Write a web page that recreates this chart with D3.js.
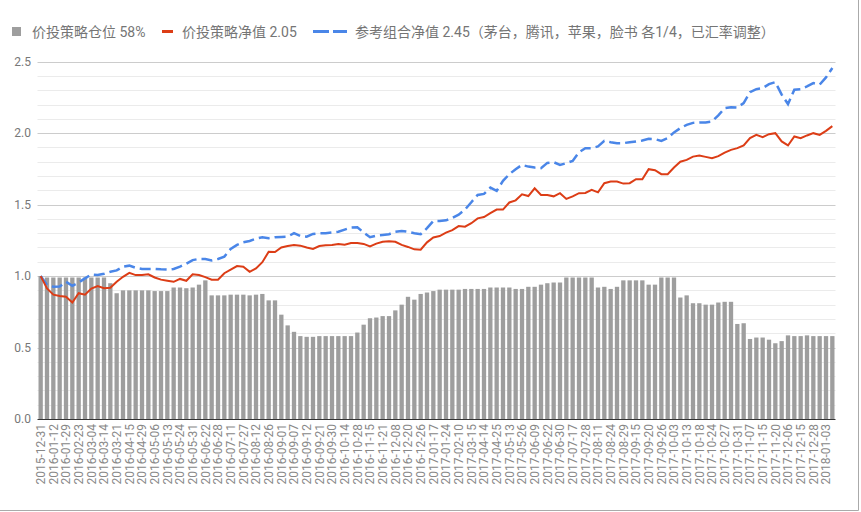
<!DOCTYPE html>
<meta charset="utf-8">
<style>
    body { margin: 0; background: #fff; }
    text { font-family: Roboto, "Noto Sans CJK SC", sans-serif; }
    .legend text { font-size: 14px; fill: #757575; }
    .yaxis text { font-size: 12px; fill: #777; }
    .xaxis text { font-size: 12px; fill: #888; }
</style>
<svg width="861" height="512"></svg>
<script src="https://cdnjs.cloudflare.com/ajax/libs/d3/7.8.5/d3.min.js"></script>
<script>
    // x tick labels (every other bar is labelled)
    const tickLabels = [
        "2015-12-31", "2016-01-12", "2016-01-29", "2016-02-23", "2016-03-04", "2016-03-14", "2016-03-21",
        "2016-04-15", "2016-04-29", "2016-05-06", "2016-05-13", "2016-05-24", "2016-05-31", "2016-06-22",
        "2016-06-28", "2016-07-11", "2016-07-27", "2016-08-12", "2016-08-26", "2016-09-01", "2016-09-07",
        "2016-09-12", "2016-09-21", "2016-09-30", "2016-10-14", "2016-10-28", "2016-11-15", "2016-11-21",
        "2016-12-08", "2016-12-20", "2016-12-26", "2017-01-17", "2017-01-24", "2017-02-10", "2017-03-15",
        "2017-04-14", "2017-04-25", "2017-05-13", "2017-05-26", "2017-06-09", "2017-06-22", "2017-06-30",
        "2017-07-17", "2017-07-28", "2017-08-11", "2017-08-24", "2017-08-29", "2017-09-15", "2017-09-20",
        "2017-09-26", "2017-10-03", "2017-10-13", "2017-10-18", "2017-10-24", "2017-10-27", "2017-10-31",
        "2017-11-07", "2017-11-15", "2017-11-20", "2017-12-06", "2017-12-15", "2017-12-28", "2018-01-03"
    ];

    // 价投策略仓位 (bars)
    const position = [
        1.0, 0.99, 0.99, 0.99, 0.99, 0.99, 0.99, 0.99, 0.99, 0.99, 0.99, 0.95, 0.88, 0.90, 0.90, 0.90, 0.90, 0.90,
        0.895, 0.895, 0.895, 0.92, 0.92, 0.915, 0.92, 0.94, 0.97, 0.865, 0.865, 0.865, 0.87, 0.87, 0.87, 0.865,
        0.87, 0.875, 0.83, 0.83, 0.73, 0.655, 0.61, 0.58, 0.575, 0.575, 0.58, 0.58, 0.58, 0.58, 0.58, 0.58,
        0.605, 0.66, 0.705, 0.71, 0.72, 0.72, 0.76, 0.80, 0.855, 0.835, 0.875, 0.885, 0.895, 0.905, 0.905, 0.905,
        0.905, 0.91, 0.91, 0.91, 0.91, 0.92, 0.92, 0.92, 0.92, 0.91, 0.91, 0.925, 0.925, 0.94, 0.95, 0.955,
        0.955, 0.99, 0.99, 0.99, 0.99, 0.99, 0.92, 0.925, 0.91, 0.925, 0.97, 0.97, 0.97, 0.97, 0.94, 0.94,
        0.99, 0.99, 0.99, 0.85, 0.865, 0.81, 0.81, 0.80, 0.80, 0.815, 0.82, 0.82, 0.665, 0.67, 0.56, 0.57,
        0.57, 0.555, 0.53, 0.545, 0.585, 0.58, 0.58, 0.585, 0.58, 0.58, 0.58, 0.58
    ];

    // 价投策略净值 (red line)
    const strategyNav = [
        1.0, 0.913, 0.87, 0.86, 0.855, 0.815, 0.88, 0.87, 0.913, 0.93, 0.915, 0.918, 0.96, 0.995, 1.023, 1.007,
        1.007, 1.012, 0.99, 0.975, 0.967, 0.96, 0.98, 0.967, 1.012, 1.007, 0.993, 0.975, 0.975, 1.02, 1.045,
        1.07, 1.066, 1.03, 1.054, 1.097, 1.17, 1.168, 1.2, 1.21, 1.218, 1.213, 1.2, 1.19, 1.21, 1.215, 1.218,
        1.225, 1.22, 1.232, 1.232, 1.225, 1.208, 1.227, 1.24, 1.243, 1.24, 1.218, 1.204, 1.187, 1.185, 1.236,
        1.27, 1.28, 1.304, 1.322, 1.35, 1.346, 1.37, 1.404, 1.413, 1.44, 1.465, 1.465, 1.515, 1.53, 1.572,
        1.56, 1.614, 1.568, 1.568, 1.558, 1.58, 1.54, 1.558, 1.58, 1.582, 1.603, 1.586, 1.65, 1.661, 1.661,
        1.647, 1.65, 1.678, 1.678, 1.748, 1.741, 1.713, 1.713, 1.76, 1.80, 1.813, 1.836, 1.843, 1.834, 1.825,
        1.839, 1.864, 1.883, 1.895, 1.914, 1.965, 1.988, 1.972, 1.993, 2.0, 1.942, 1.914, 1.977, 1.965, 1.984,
        2.0, 1.988, 2.016, 2.049
    ];

    // 参考组合净值 (blue dashed line)
    const referenceNav = [
        1.0, 0.937, 0.925, 0.927, 0.96, 0.932, 0.955, 0.984, 1.012, 1.007, 1.016, 1.03, 1.04, 1.066, 1.073,
        1.058, 1.05, 1.05, 1.05, 1.047, 1.045, 1.05, 1.066, 1.087, 1.112, 1.12, 1.12, 1.11, 1.12, 1.136, 1.19,
        1.218, 1.237, 1.246, 1.262, 1.272, 1.265, 1.272, 1.274, 1.276, 1.30, 1.28, 1.276, 1.295, 1.30, 1.30,
        1.305, 1.31, 1.325, 1.34, 1.342, 1.305, 1.272, 1.283, 1.288, 1.293, 1.31, 1.316, 1.31, 1.30, 1.293,
        1.335, 1.385, 1.385, 1.39, 1.407, 1.43, 1.465, 1.517, 1.568, 1.575, 1.619, 1.596, 1.666, 1.713, 1.748,
        1.778, 1.766, 1.759, 1.755, 1.792, 1.797, 1.778, 1.79, 1.806, 1.867, 1.895, 1.895, 1.907, 1.946, 1.937,
        1.93, 1.93, 1.937, 1.942, 1.949, 1.96, 1.958, 1.946, 1.965, 2.005, 2.035, 2.058, 2.072, 2.075, 2.075,
        2.082, 2.124, 2.175, 2.182, 2.18, 2.21, 2.287, 2.308, 2.315, 2.343, 2.357, 2.27, 2.203, 2.304, 2.308,
        2.327, 2.35, 2.34, 2.39, 2.456
    ];

    const yTicks = [0, 0.5, 1.0, 1.5, 2.0, 2.5];
    const minorTicks = d3.range(1, 25).map(d => d / 10).filter(d => Math.round(d * 10) % 5 !== 0);

    const legendItems = [
        "价投策略仓位 58%",
        "价投策略净值 2.05",
        "参考组合净值 2.45（茅台，腾讯，苹果，脸书 各1/4，已汇率调整）"
    ];

    const colors = { bar: "#9e9e9e", red: "#dc3d16", blue: "#4a86e8" };

    const svg = d3.select("svg");
    const plotLeft = 37.5, plotRight = 835.5, plotTop = 61.7, plotBottom = 419;

    const x = d3.scaleBand()
        .domain(d3.range(position.length))
        .range([plotLeft, plotRight])
        .paddingInner(0.32)
        .paddingOuter(0.16);

    const y = d3.scaleLinear().domain([0, 2.5]).range([plotBottom, plotTop]);

    // minor grid
    svg.append("g").selectAll("line")
        .data(minorTicks)
        .enter().append("line")
        .attr("x1", plotLeft).attr("x2", plotRight)
        .attr("y1", d => Math.round(y(d)) + 0.5).attr("y2", d => Math.round(y(d)) + 0.5)
        .attr("stroke", "#ebebeb");

    // major grid
    svg.append("g").selectAll("line")
        .data(yTicks.slice(1))
        .enter().append("line")
        .attr("x1", plotLeft).attr("x2", plotRight)
        .attr("y1", d => Math.round(y(d)) + 0.5).attr("y2", d => Math.round(y(d)) + 0.5)
        .attr("stroke", "#cccccc");

    // y labels
    svg.append("g").attr("class", "yaxis")
        .selectAll("text")
        .data(yTicks)
        .enter().append("text")
        .attr("x", 31)
        .attr("y", d => y(d))
        .attr("dy", "0.35em")
        .attr("text-anchor", "end")
        .text(d => d.toFixed(1));

    // bars
    svg.append("g").selectAll("rect")
        .data(position)
        .enter().append("rect")
        .attr("x", (d, i) => x(i))
        .attr("width", x.bandwidth())
        .attr("y", d => y(d))
        .attr("height", d => y(0) - y(d))
        .attr("fill", colors.bar);

    // baseline
    svg.append("line")
        .attr("x1", plotLeft).attr("x2", plotRight)
        .attr("y1", Math.round(y(0)) + 0.5).attr("y2", Math.round(y(0)) + 0.5)
        .attr("stroke", "#333");

    const cx = i => x(i) + x.bandwidth() / 2;
    const line = d3.line().x((d, i) => cx(i)).y(d => y(d));

    svg.append("path")
        .datum(referenceNav)
        .attr("d", line)
        .attr("fill", "none")
        .attr("stroke", colors.blue)
        .attr("stroke-width", 2.5)
        .attr("stroke-dasharray", "11,5");

    svg.append("path")
        .datum(strategyNav)
        .attr("d", line)
        .attr("fill", "none")
        .attr("stroke", colors.red)
        .attr("stroke-width", 2);

    // x axis labels
    const xAxis = d3.axisBottom(x)
        .tickValues(d3.range(0, position.length, 2))
        .tickFormat(i => tickLabels[i / 2])
        .tickSize(0);

    const gx = svg.append("g")
        .attr("class", "xaxis")
        .attr("transform", "translate(0," + plotBottom + ")")
        .call(xAxis);
    gx.attr("font-family", null).attr("font-size", null);
    gx.select(".domain").remove();
    gx.selectAll("text")
        .attr("transform", "rotate(-90)")
        .attr("x", -5)
        .attr("y", 0)
        .attr("dy", "0.35em")
        .attr("text-anchor", "end")
        .attr("fill", null);

    // legend
    const lg = svg.append("g").attr("class", "legend");
    lg.append("rect").attr("x", 12).attr("y", 27).attr("width", 9).attr("height", 9).attr("fill", colors.bar);
    lg.append("line").attr("x1", 162).attr("x2", 173).attr("y1", 31.5).attr("y2", 31.5)
        .attr("stroke", colors.red).attr("stroke-width", 3);
    lg.append("line").attr("x1", 313).attr("x2", 347).attr("y1", 31.5).attr("y2", 31.5)
        .attr("stroke", colors.blue).attr("stroke-width", 3).attr("stroke-dasharray", "16,4");
    const legendX = [32, 182, 355];
    lg.selectAll("text.item")
        .data(legendItems)
        .enter().append("text")
        .attr("class", "item")
        .attr("x", (d, i) => legendX[i])
        .attr("y", 36.5)
        .text(d => d);

    // frame
    svg.append("line").attr("x1", 858.5).attr("x2", 858.5).attr("y1", 0).attr("y2", 510.5).attr("stroke", "#aaa");
    svg.append("line").attr("x1", 0).attr("x2", 858.5).attr("y1", 510.5).attr("y2", 510.5).attr("stroke", "#aaa");
</script>
